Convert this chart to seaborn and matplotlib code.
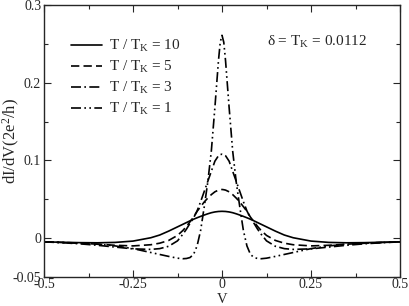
import pandas as pd
import matplotlib.pyplot as plt
import seaborn as sns
from matplotlib.ticker import FixedLocator

# bias voltage grid (same for all curves)
V = [-0.5, -0.45, -0.4, -0.35, -0.3, -0.25, -0.2, -0.175, -0.15, -0.125, -0.11,
     -0.1, -0.09, -0.08, -0.07, -0.06, -0.05, -0.04, -0.03, -0.02, -0.01, -0.005,
     0.0,
     0.005, 0.01, 0.02, 0.03, 0.04, 0.05, 0.06, 0.07, 0.08, 0.09, 0.1,
     0.11, 0.125, 0.15, 0.175, 0.2, 0.25, 0.3, 0.35, 0.4, 0.45, 0.5]

# dI/dV in units of 2e^2/h
g_T10 = [-0.0048, -0.0053, -0.0058, -0.0060, -0.0055, -0.0038, 0.0005, 0.0040, 0.0090, 0.0145, 0.0178,
         0.0200, 0.0222, 0.0243, 0.0262, 0.0280, 0.0297, 0.0313, 0.0327, 0.0337, 0.0343, 0.0344,
         0.0345,
         0.0344, 0.0343, 0.0337, 0.0327, 0.0313, 0.0297, 0.0280, 0.0262, 0.0243, 0.0222, 0.0200,
         0.0178, 0.0145, 0.0090, 0.0040, 0.0005, -0.0038, -0.0055, -0.0060, -0.0058, -0.0053, -0.0048]

g_T5 = [-0.0048, -0.0056, -0.0066, -0.0078, -0.0092, -0.0100, -0.0085, -0.0065, -0.0030, 0.0035, 0.0098,
        0.0150, 0.0210, 0.0270, 0.0345, 0.0405, 0.0465, 0.0515, 0.0560, 0.0596, 0.0618, 0.0623,
        0.0626,
        0.0623, 0.0618, 0.0596, 0.0560, 0.0515, 0.0465, 0.0405, 0.0345, 0.0270, 0.0210, 0.0150,
        0.0098, 0.0035, -0.0030, -0.0065, -0.0085, -0.0100, -0.0092, -0.0078, -0.0066, -0.0056, -0.0048]

g_T3 = [-0.0048, -0.0059, -0.0073, -0.0092, -0.0115, -0.0138, -0.0145, -0.0135, -0.0105, -0.0035, 0.0050,
        0.0115, 0.0190, 0.0260, 0.0350, 0.0470, 0.0600, 0.0730, 0.0860, 0.0990, 0.1060, 0.1075,
        0.1080,
        0.1075, 0.1060, 0.0990, 0.0860, 0.0730, 0.0600, 0.0470, 0.0350, 0.0260, 0.0190, 0.0115,
        0.0050, -0.0035, -0.0105, -0.0135, -0.0145, -0.0138, -0.0115, -0.0092, -0.0073, -0.0059, -0.0048]

g_T1 = [-0.0048, -0.0055, -0.0064, -0.0078, -0.0100, -0.0135, -0.0185, -0.0210, -0.0235, -0.0258, -0.0265,
        -0.0262, -0.0250, -0.0210, -0.0100, 0.0100, 0.0400, 0.0720, 0.1120, 0.1680, 0.2280, 0.2520,
        0.2610,
        0.2520, 0.2280, 0.1680, 0.1120, 0.0720, 0.0400, 0.0100, -0.0100, -0.0210, -0.0250, -0.0262,
        -0.0265, -0.0258, -0.0235, -0.0210, -0.0185, -0.0135, -0.0100, -0.0078, -0.0064, -0.0055, -0.0048]

labels = [r"T / T$_\mathrm{K}$ = 10", r"T / T$_\mathrm{K}$ = 5",
          r"T / T$_\mathrm{K}$ = 3", r"T / T$_\mathrm{K}$ = 1"]
styles = ["-", (0, (5, 2.5)), (0, (6, 2, 1, 2)), (0, (6, 2, 1, 2, 1, 2))]

df = pd.DataFrame({"V": V, "10": g_T10, "5": g_T5, "3": g_T3, "1": g_T1})

sns.set_style("ticks")
plt.rcParams["font.family"] = ["Liberation Serif", "DejaVu Serif"]
plt.rcParams["mathtext.fontset"] = "custom"
plt.rcParams["mathtext.rm"] = "Liberation Serif"
plt.rcParams["mathtext.it"] = "Liberation Serif:italic"

fig = plt.figure(figsize=(4.09, 3.06), dpi=100)
ax = fig.add_axes([0.1076, 0.0948, 0.8704, 0.8889])

for col, lab, ls in zip(["10", "5", "3", "1"], labels, styles):
    sns.lineplot(data=df, x="V", y=col, ax=ax, color="black", linewidth=1.2,
                 linestyle=ls, label=lab)

ax.set_xlim(-0.5, 0.5)
ax.set_ylim(-0.05, 0.3)
ax.set_xticks([-0.5, -0.25, 0, 0.25, 0.5])
ax.set_xticklabels(["-0.5", "-0.25", "0", "0.25", "0.5"])
ax.xaxis.set_minor_locator(FixedLocator([-0.375, -0.125, 0.125, 0.375]))
ax.set_yticks([-0.05, 0, 0.1, 0.2, 0.3])
ax.set_yticklabels(["-0.05", "0", "0.1", "0.2", "0.3"])
ax.yaxis.set_minor_locator(FixedLocator([0.05, 0.15, 0.25]))
ax.tick_params(which="both", direction="in", top=True, right=True, labelsize=10,
               width=0.8, pad=2)
ax.tick_params(axis="x", which="major", pad=1)
ax.tick_params(which="major", length=5)
ax.tick_params(which="minor", length=3)
for s in ax.spines.values():
    s.set_linewidth(1.0)

ax.set_xlabel("V", fontsize=10.5, va="center")
ax.xaxis.set_label_coords(0.5, -0.081)
ax.set_ylabel(r"dI/dV(2e$^2$/h)", fontsize=12, va="center")
ax.yaxis.set_label_coords(-0.092, 0.5)

ax.legend(loc="upper left", bbox_to_anchor=(0.06, 0.9), frameon=False, fontsize=11,
          handlelength=2.0, handletextpad=0.45, labelspacing=0.32, borderaxespad=0)
ax.text(0.625, 0.85, "δ = T$_\\mathrm{K}$ = 0.0112", transform=ax.transAxes,
        fontsize=11)

fig.savefig("out.png", dpi=100)
